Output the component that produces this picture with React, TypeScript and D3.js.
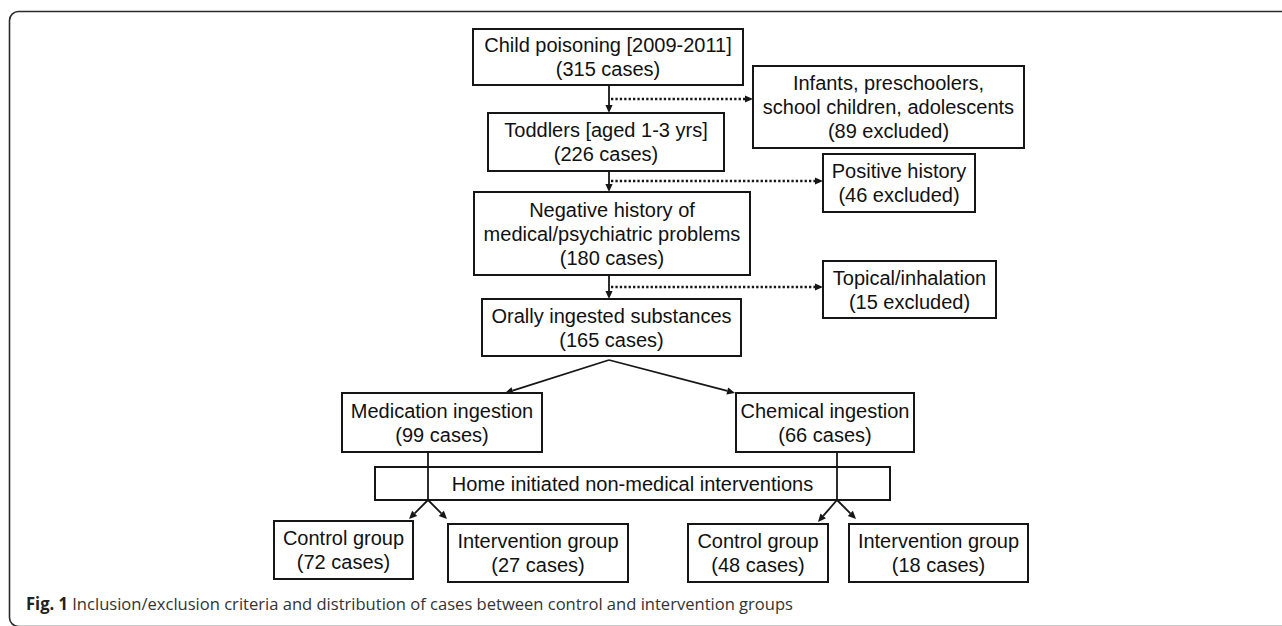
import { useRef, useEffect } from "react";
import * as d3 from "d3";

// flow data
const stageLabels = [
  ["Child poisoning [2009-2011]"],
  ["Toddlers [aged 1-3 yrs]"],
  ["Negative history of", "medical/psychiatric problems"],
  ["Orally ingested substances"],
];
const stageCases = [315, 226, 180, 165];

const exclusionLabels = [
  ["Infants, preschoolers,", "school children, adolescents"],
  ["Positive history"],
  ["Topical/inhalation"],
];
const exclusionCases = [89, 46, 15];

const branchLabels = ["Medication ingestion", "Chemical ingestion"];
const branchCases = [99, 66];

const interventionLabel = "Home initiated non-medical interventions";

const groupLabels = ["Control group", "Intervention group"];
const groupCases = [
  [72, 27],
  [48, 18],
];

const captionTitle = "Fig. 1";
const captionText =
  "Inclusion/exclusion criteria and distribution of cases between control and intervention groups";

// layout (pixels)
type Box = { x0: number; x1: number; y0: number; y1: number };
const stageBoxes: Box[] = [
  { x0: 473, x1: 743, y0: 29, y1: 85 },
  { x0: 488, x1: 724, y0: 113, y1: 171 },
  { x0: 474, x1: 750, y0: 192, y1: 275 },
  { x0: 482, x1: 741, y0: 299, y1: 356 },
];
const exclusionBoxes: Box[] = [
  { x0: 753, x1: 1024, y0: 66, y1: 148 },
  { x0: 823, x1: 975, y0: 154, y1: 212 },
  { x0: 823, x1: 996, y0: 261, y1: 318 },
];
const exclusionY = [99, 181, 287];
const spineX = 609;
const branchBoxes: Box[] = [
  { x0: 342, x1: 542, y0: 393, y1: 452 },
  { x0: 736, x1: 914, y0: 393, y1: 452 },
];
const branchX = [428, 837];
const homeBox: Box = { x0: 375, x1: 890, y0: 467, y1: 500 };
const groupBoxes: Box[][] = [
  [
    { x0: 274, x1: 413, y0: 521, y1: 579 },
    { x0: 448, x1: 628, y0: 524, y1: 582 },
  ],
  [
    { x0: 688, x1: 828, y0: 524, y1: 582 },
    { x0: 849, x1: 1028, y0: 524, y1: 582 },
  ],
];

const INK = "#161616";
const lineH = 24;

export default function App() {
  const svgRef = useRef<SVGSVGElement>(null);

  useEffect(() => {
    const svg = d3.select(svgRef.current);
    svg.selectAll("*").remove();

    // outer frame
    svg
      .append("rect")
      .attr("x", 9.5)
      .attr("y", 11.5)
      .attr("width", 1400)
      .attr("height", 615)
      .attr("rx", 9)
      .attr("fill", "none")
      .attr("stroke", "#2b2b2b")
      .attr("stroke-width", 1.6);

    const g = svg.append("g");
    const line = d3.line();

    const arrow = (p0: [number, number], p1: [number, number], dotted = false) => {
      const ang = Math.atan2(p1[1] - p0[1], p1[0] - p0[0]);
      const L = 8;
      const W = 3.6;
      const bx = p1[0] - L * Math.cos(ang);
      const by = p1[1] - L * Math.sin(ang);
      g.append("path")
        .attr("d", line([p0, [bx, by]]))
        .attr("fill", "none")
        .attr("stroke", INK)
        .attr("stroke-width", dotted ? 2.6 : 1.8)
        .attr("stroke-dasharray", dotted ? "2.3,2.1" : null);
      const tri: [number, number][] = [
        p1,
        [bx + W * Math.sin(ang), by - W * Math.cos(ang)],
        [bx - W * Math.sin(ang), by + W * Math.cos(ang)],
      ];
      g.append("path").attr("d", line(tri) + "Z").attr("fill", INK);
    };

    const plain = (pts: [number, number][]) => {
      g.append("path")
        .attr("d", line(pts))
        .attr("fill", "none")
        .attr("stroke", INK)
        .attr("stroke-width", 1.8);
    };

    const box = (b: Box, lines: string[]) => {
      g.append("rect")
        .attr("x", b.x0)
        .attr("y", b.y0)
        .attr("width", b.x1 - b.x0)
        .attr("height", b.y1 - b.y0)
        .attr("fill", "none")
        .attr("stroke", INK)
        .attr("stroke-width", 2);
      const cx = (b.x0 + b.x1) / 2;
      const cy = (b.y0 + b.y1) / 2;
      lines.forEach((t, i) => {
        g.append("text")
          .attr("x", cx)
          .attr("y", cy + (i - (lines.length - 1) / 2) * lineH + 7)
          .attr("text-anchor", "middle")
          .attr("font-family", "'Liberation Sans', Arial, sans-serif")
          .attr("font-size", 20)
          .attr("fill", "#111")
          .text(t);
      });
    };

    // main spine
    stageBoxes.slice(1).forEach((b, i) => {
      arrow([spineX, stageBoxes[i].y1], [spineX, b.y0]);
    });

    // exclusions
    exclusionBoxes.forEach((b, i) => {
      arrow([spineX + 2, exclusionY[i]], [b.x0, exclusionY[i]], true);
    });

    // split into branches
    const last = stageBoxes[stageBoxes.length - 1];
    const apex: [number, number] = [spineX, last.y1 + 4];
    arrow(apex, [505, branchBoxes[0].y0]);
    arrow(apex, [branchBoxes[1].x0 - 1, branchBoxes[1].y0]);

    // branches down through the home box to groups
    branchBoxes.forEach((b, i) => {
      const x = branchX[i];
      plain([
        [x, b.y1],
        [x, homeBox.y1],
      ]);
      const [c, t] = groupBoxes[i];
      arrow([x, homeBox.y1], [x - 19, c.y0 - 2]);
      arrow([x, homeBox.y1], [x + 19, t.y0 - 5]);
    });

    stageBoxes.forEach((b, i) => box(b, [...stageLabels[i], `(${stageCases[i]} cases)`]));
    exclusionBoxes.forEach((b, i) =>
      box(b, [...exclusionLabels[i], `(${exclusionCases[i]} excluded)`])
    );
    branchBoxes.forEach((b, i) => box(b, [branchLabels[i], `(${branchCases[i]} cases)`]));
    box(homeBox, [interventionLabel]);
    groupBoxes.forEach((pair, i) =>
      pair.forEach((b, j) => box(b, [groupLabels[j], `(${groupCases[i][j]} cases)`]))
    );

    // caption
    const cap = svg
      .append("text")
      .attr("x", 26)
      .attr("y", 610)
      .attr("font-family", "'Open Sans', sans-serif")
      .attr("font-size", 17)
      .attr("fill", "#333")
      .attr("textLength", 767)
      .attr("lengthAdjust", "spacingAndGlyphs");
    cap.append("tspan").attr("font-weight", "bold").attr("fill", "#222").text(captionTitle);
    cap.append("tspan").text(" " + captionText);
  }, []);

  return (
    <div style={{ position: "absolute", left: 0, top: 0 }}>
      <svg ref={svgRef} width={1282} height={626} style={{ display: "block" }} />
    </div>
  );
}
